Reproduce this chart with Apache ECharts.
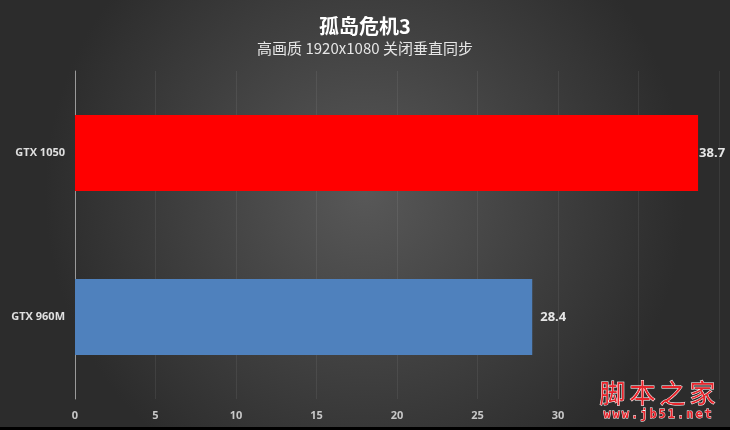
<!DOCTYPE html>
<html><head><meta charset="utf-8">
<script src="https://cdn.jsdelivr.net/npm/echarts@6/dist/echarts.min.js"></script>
<style>html,body{margin:0;padding:0;background:#000;}#c{width:730px;height:427px;}</style>
</head><body><div id="c"></div>
<script>
const titleText = '孤岛危机3';
const subtitleText = '高画质 1920x1080 关闭垂直同步';
const categories = ['GTX 960M', 'GTX 1050'];
const values = [28.4, 38.7];
const barColors = ['#4f81bd', '#ff0000'];
const labelGaps = [8, 1];
const watermarkChars = ['脚', '本', '之', '家'];
const watermarkUrl = 'www.jb51.net';

const chart = echarts.init(document.getElementById('c'));
const wm = watermarkChars.map((ch, i) => ({
  type: 'text', left: 599 + i * 30, top: 380,
  style: {text: ch, fill: '#e8232a', stroke: '#ffffff', lineWidth: 1, font: '26px "Noto Sans CJK SC"'}
}));
const wmUrl = watermarkUrl.split('').map((ch, i) => ({
  type: 'text', left: 603 + i * 9.2, top: 408,
  style: {text: ch, fill: '#e8232a', stroke: '#ffffff', lineWidth: 0.8, font: 'bold 12px "DejaVu Sans Mono"'}
}));
chart.setOption({
  backgroundColor: {
    type: 'radial', x: 0.5, y: 0.45, r: 0.75,
    colorStops: [{offset: 0, color: '#585858'}, {offset: 1, color: '#2c2c2c'}]
  },
  title: {
    text: titleText, subtext: subtitleText, left: 'center', top: 11, itemGap: 5,
    textStyle: {color: '#ffffff', fontSize: 20, fontWeight: 'bold', fontFamily: 'Noto Sans CJK SC'},
    subtextStyle: {color: '#e6e6e6', fontSize: 15, fontFamily: 'Noto Sans CJK SC'}
  },
  grid: {left: 75, right: 11, top: 71, bottom: 28},
  xAxis: {
    type: 'value', min: 0, max: 40, interval: 5,
    axisLine: {show: false}, axisTick: {show: false},
    splitLine: {show: true, lineStyle: {color: 'rgba(255,255,255,0.07)', width: 1}},
    axisLabel: {color: '#c8c8c8', fontSize: 11, fontWeight: 'bold', margin: 11, fontFamily: 'Open Sans',
      formatter: v => (v <= 30 ? String(v) : '')}
  },
  yAxis: {
    type: 'category', data: categories,
    axisLine: {show: true, lineStyle: {color: '#9a9a9a', width: 1}},
    axisTick: {show: false},
    axisLabel: {color: '#e0e0e0', fontSize: 11, fontWeight: 'bold', margin: 10, fontFamily: 'Open Sans'}
  },
  series: [{
    type: 'bar', barWidth: 76,
    data: values.map((v, i) => ({value: v, itemStyle: {color: barColors[i]}, label: {distance: labelGaps[i]}})),
    label: {show: true, position: 'right', color: '#e6e6e6', fontSize: 13, fontWeight: 'bold', fontFamily: 'Open Sans'}
  }],
  graphic: wm.concat(wmUrl)
});
</script></body></html>
